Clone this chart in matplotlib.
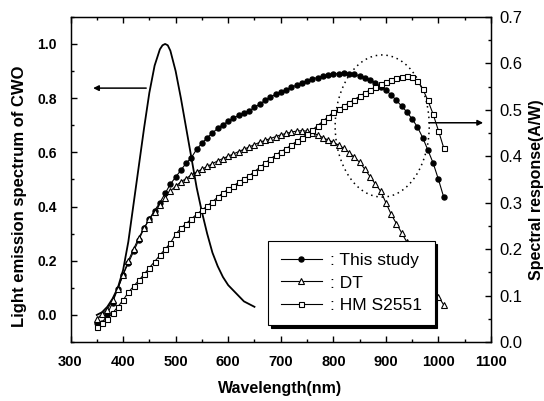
import numpy as np
import matplotlib
matplotlib.use("Agg")
import matplotlib.pyplot as plt
from matplotlib.patches import Ellipse
from matplotlib.ticker import MultipleLocator, FormatStrFormatter

plt.rcParams["font.family"] = ["Liberation Sans", "DejaVu Sans"]

# CWO emission spectrum (left axis)
em_wl = [350, 360, 370, 380, 390, 400, 410, 420, 430, 440, 450, 460, 470, 475,
         480, 485, 490, 500, 510, 520, 530, 540, 550, 560, 570, 580, 590, 600,
         610, 620, 630, 640, 650]
em_val = [0.0, 0.01, 0.03, 0.06, 0.10, 0.165, 0.27, 0.41, 0.55, 0.69, 0.82,
          0.92, 0.98, 0.995, 1.0, 0.995, 0.975, 0.90, 0.80, 0.69, 0.58, 0.47,
          0.38, 0.30, 0.23, 0.18, 0.14, 0.11, 0.09, 0.07, 0.05, 0.04, 0.03]

# spectral response (right axis), 350..1010 nm every 10 nm
wl = list(range(350, 1011, 10))
this_study = [0.040, 0.040, 0.060, 0.085, 0.115, 0.145, 0.170, 0.195, 0.220,
              0.245, 0.265, 0.283, 0.300, 0.320, 0.340, 0.355, 0.370, 0.385,
              0.397, 0.415, 0.428, 0.440, 0.450, 0.460, 0.468, 0.475, 0.482,
              0.488, 0.493, 0.498, 0.505, 0.512, 0.520, 0.527, 0.533, 0.538,
              0.543, 0.548, 0.553, 0.558, 0.562, 0.567, 0.569, 0.572, 0.575,
              0.577, 0.578, 0.579, 0.578, 0.576, 0.573, 0.569, 0.564, 0.558,
              0.550, 0.542, 0.532, 0.520, 0.508, 0.495, 0.480, 0.463, 0.440,
              0.413, 0.385, 0.350, 0.312]
dt = [0.050, 0.060, 0.070, 0.090, 0.115, 0.145, 0.175, 0.200, 0.225, 0.245,
      0.265, 0.280, 0.295, 0.310, 0.325, 0.335, 0.345, 0.352, 0.360, 0.366,
      0.372, 0.378, 0.384, 0.390, 0.395, 0.400, 0.405, 0.410, 0.415, 0.420,
      0.425, 0.430, 0.434, 0.438, 0.442, 0.446, 0.449, 0.452, 0.454, 0.455,
      0.454, 0.450, 0.446, 0.440, 0.435, 0.430, 0.424, 0.417, 0.408, 0.398,
      0.387, 0.372, 0.356, 0.340, 0.325, 0.300, 0.275, 0.255, 0.235, 0.215,
      0.195, 0.175, 0.155, 0.135, 0.115, 0.098, 0.080]
hm_s2551 = [0.032, 0.040, 0.050, 0.062, 0.076, 0.090, 0.107, 0.120, 0.133,
            0.146, 0.160, 0.173, 0.187, 0.200, 0.213, 0.232, 0.245, 0.255,
            0.265, 0.275, 0.284, 0.293, 0.302, 0.312, 0.321, 0.329, 0.336,
            0.344, 0.351, 0.358, 0.367, 0.376, 0.385, 0.394, 0.402, 0.410,
            0.416, 0.424, 0.432, 0.440, 0.447, 0.456, 0.466, 0.475, 0.485,
            0.495, 0.501, 0.508, 0.515, 0.522, 0.529, 0.536, 0.543, 0.549,
            0.555, 0.560, 0.565, 0.569, 0.571, 0.572, 0.570, 0.562, 0.545,
            0.520, 0.490, 0.455, 0.418]

fig = plt.figure(figsize=(5.44, 4.01), dpi=100)
ax = fig.add_axes([0.1296, 0.147, 0.773, 0.811])
ax2 = ax.twinx()

ax.plot(em_wl, em_val, color="black", lw=1.3)

ax2.plot(wl, this_study, "-o", color="black", lw=0.8, ms=3.6, mfc="black",
         label=": This study")
ax2.plot(wl, dt, "-^", color="black", lw=0.8, ms=4.2, mfc="white", mew=0.8,
         label=": DT")
ax2.plot(wl, hm_s2551, "-s", color="black", lw=0.8, ms=3.6, mfc="white",
         mew=0.8, label=": HM S2551")

ax.set_xlim(300, 1100)
ax.set_ylim(-0.1, 1.1)
ax2.set_ylim(0, 0.7)

ax.xaxis.set_major_locator(MultipleLocator(100))
ax.xaxis.set_minor_locator(MultipleLocator(50))
ax.yaxis.set_major_locator(MultipleLocator(0.2))
ax.yaxis.set_minor_locator(MultipleLocator(0.1))
ax2.yaxis.set_major_locator(MultipleLocator(0.1))
ax2.yaxis.set_minor_locator(MultipleLocator(0.05))
ax.yaxis.set_major_formatter(FormatStrFormatter("%.1f"))
ax2.yaxis.set_major_formatter(FormatStrFormatter("%.1f"))

ax.tick_params(which="both", direction="in", top=True, width=1)
ax.tick_params(which="minor", length=2)
ax.tick_params(axis="x", which="major", length=4, labelsize=10.5, pad=9)
ax.tick_params(axis="y", which="major", length=4, labelsize=10, pad=10)
ax2.tick_params(which="both", direction="in", width=1)
ax2.tick_params(which="major", length=4, labelsize=12, pad=6)
ax2.tick_params(which="minor", length=2)
for lab in ax.get_xticklabels() + ax.get_yticklabels():
    lab.set_fontweight("bold")
for sp in ax.spines.values():
    sp.set_linewidth(1.0)

# dotted ellipse marking the long-wavelength region
ax2.add_patch(Ellipse((893, 0.465), 179, 0.306, fill=False, ls=(0, (1, 2.5)),
                      lw=1.1, color="black"))

# arrows pointing to each axis
ax.annotate("", xy=(343, 0.837), xytext=(444, 0.837),
            arrowprops=dict(arrowstyle="-|>", color="black", lw=1.1,
                            mutation_scale=8, shrinkA=0, shrinkB=0))
ax2.annotate("", xy=(1085, 0.472), xytext=(982, 0.472),
             arrowprops=dict(arrowstyle="-|>", color="black", lw=1.1,
                             mutation_scale=8, shrinkA=0, shrinkB=0))

leg = ax2.legend(loc="lower left", bbox_to_anchor=(0.47, 0.052),
                 borderaxespad=0, fontsize=12.5, handlelength=2.4,
                 handletextpad=0.45, labelspacing=0.4, fancybox=False,
                 shadow={"color": "black", "alpha": 1}, framealpha=1,
                 borderpad=0.72)
leg.get_frame().set_edgecolor("black")
leg.get_frame().set_linewidth(0.8)

fig.text(280 / 544, 1 - 388 / 401, "Wavelength(nm)", ha="center", va="center",
         fontsize=11.5, fontweight="bold")
fig.text(20 / 544, 1 - 196 / 401, "Light emission spectrum of CWO",
         rotation=90, ha="center", va="center", fontsize=12,
         fontweight="bold")
fig.text(537 / 544, 1 - 190 / 401, "Spectral response(A/W)",
         rotation=90, ha="center", va="center", fontsize=11.5,
         fontweight="bold")

fig.savefig("out.png", dpi=100)
